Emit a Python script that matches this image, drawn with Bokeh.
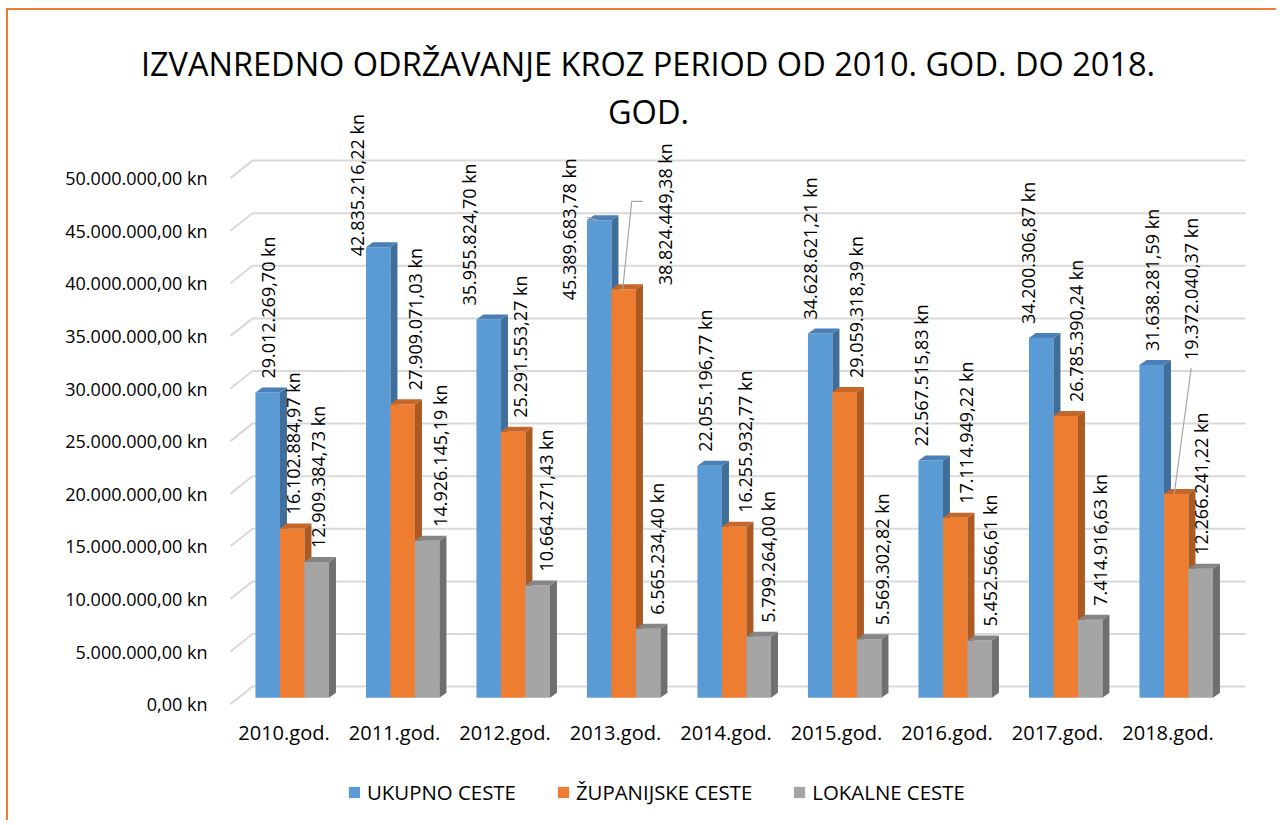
import math
from bokeh.plotting import figure
from bokeh.models import Range1d, FixedTicker, Legend, LegendItem, Label, ColumnDataSource
from bokeh.core.properties import value
from bokeh.embed import file_html
from bokeh.resources import INLINE

# ---------------- data ----------------
categories = ["2010.god.", "2011.god.", "2012.god.", "2013.god.", "2014.god.",
              "2015.god.", "2016.god.", "2017.god.", "2018.god."]
ukupno_ceste = [29012269.70, 42835216.22, 35955824.70, 45389683.78, 22055196.77,
                34628621.21, 22567515.83, 34200306.87, 31638281.59]
zupanijske_ceste = [16102884.97, 27909071.03, 25291553.27, 38824449.38, 16255932.77,
                    29059318.39, 17114949.22, 26785390.24, 19372040.37]
lokalne_ceste = [12909384.73, 14926145.19, 10664271.43, 6565234.40, 5799264.00,
                 5569302.82, 5452566.61, 7414916.63, 12266241.22]
series_names = ["UKUPNO CESTE", "ŽUPANIJSKE CESTE", "LOKALNE CESTE"]
y_ticks = [0, 5000000, 10000000, 15000000, 20000000, 25000000,
           30000000, 35000000, 40000000, 45000000, 50000000]
title_lines = ["IZVANREDNO ODRŽAVANJE KROZ PERIOD OD 2010. GOD. DO 2018.", "GOD."]

# ---------------- styles ----------------
FRONT = ["#5B9BD5", "#ED7D31", "#A5A5A5"]
SIDE = ["#3F6E9B", "#AD5A22", "#6F6F6F"]
TOP = ["#4A80B5", "#C6672A", "#858585"]
GRID = "#D9D9D9"
FONT = "Open Sans"

# label shifts in pixels (dx right, dy down) relative to default position
LBL_DX = [[0, -21.5, -20, -30.7, -5, -10, -10, -13, 0],
          [1, 12, 7, 41, 11, 11, 11, 10, 15],
          [1, 13, 8, 9, 9, 13, 10, 10, 0]]
LBL_DY = [[0, 23, 0, 94, 0, 0, 0, 0, 0],
          [0, 0, 0, 10, 0, 0, 0, 0, -120],
          [0, 0, 0, 0, 0, 0, 0, 0, 0]]
LBL_GAP = 14

# pixel geometry (page coordinates)
AX0, SXP = 283.5, 110.5          # category 0 on the axis plane, px per category
AY0, SYP = 703.6, 10.52e-6       # value 0 on the axis plane, px per kn


def dxp(px):
    return px / SXP


def dyp(px):
    return px / SYP


def X(px):
    return (px - AX0) / SXP


def Y(py):
    return (AY0 - py) / SYP


BF_DX, BF_DY = dxp(8.2), dyp(6.3)      # bar front plane offset from axis plane
BD_DX, BD_DY = dxp(7.0), dyp(5.0)      # bar depth
W_DX, W_DY = dxp(22.0), dyp(17.5)      # back wall offset
BW = dxp(24.5)

ORIGIN = (8, 10)                 # page position of the canvas
FIG_W, FIG_H = 1270, 812
MB_L, MB_R, MB_T, MB_B = 12, 0, 0, 8
F_LEFT, F_RIGHT = ORIGIN[0] + MB_L, ORIGIN[0] + FIG_W - MB_R
F_TOP, F_BOTTOM = ORIGIN[1] + MB_T, ORIGIN[1] + FIG_H - MB_B


def fmt_kn(v):
    s = f"{v:,.2f}".replace(",", "X").replace(".", ",").replace("X", ".")
    return s + " kn"


p = figure(width=FIG_W, height=FIG_H, title=None,
           x_range=Range1d(X(F_LEFT), X(F_RIGHT)),
           y_range=Range1d(Y(F_BOTTOM), Y(F_TOP)),
           output_backend="svg", toolbar_location=None,
           min_border_left=MB_L, min_border_right=MB_R,
           min_border_top=MB_T, min_border_bottom=MB_B)
p.styles = {"margin-left": "6px", "margin-top": "8px",
            "border-left": "2px solid #ED7D31", "border-top": "2px solid #ED7D31"}
p.xgrid.visible = False
p.ygrid.visible = False
p.outline_line_color = None
p.background_fill_color = "white"
p.border_fill_color = "white"

# ---------------- gridlines (floor edge + back wall) ----------------
x_front = X(230)
x_back_end = X(1245)
gx, gy = [], []
for t in y_ticks:
    gx.append([x_front, x_front + W_DX, x_back_end])
    gy.append([t, t + W_DY, t + W_DY])
p.multi_line(gx, gy, line_color=GRID, line_width=2)

# ---------------- 3D bars ----------------
all_series = [ukupno_ceste, zupanijske_ceste, lokalne_ceste]
front_renderers = []
lbl = dict(x=[], y=[], text=[])
for s, vals in enumerate(all_series):
    lefts, rights, tops = [], [], []
    sx, sy, tx, ty = [], [], [], []
    for i, v in enumerate(vals):
        x0 = i + BF_DX + (s - 1) * BW - BW / 2
        x1 = x0 + BW
        y0 = BF_DY
        y1 = v + BF_DY
        lefts.append(x0)
        rights.append(x1)
        tops.append(y1)
        sx.append([x1, x1 + BD_DX, x1 + BD_DX, x1])
        sy.append([y0, y0 + BD_DY, y1 + BD_DY, y1])
        tx.append([x0, x0 + BD_DX, x1 + BD_DX, x1])
        ty.append([y1, y1 + BD_DY, y1 + BD_DY, y1])
        lbl["x"].append((x0 + x1) / 2 + dxp(LBL_DX[s][i]))
        lbl["y"].append(y1 + dyp(LBL_GAP - LBL_DY[s][i]))
        lbl["text"].append(fmt_kn(v))
    r = p.quad(left=lefts, right=rights, bottom=[BF_DY] * len(vals), top=tops,
               fill_color=FRONT[s], line_color=None)
    front_renderers.append(r)
    p.patches(sx, sy, fill_color=SIDE[s], line_color=None)
    p.patches(tx, ty, fill_color=TOP[s], line_color=None)


# leader lines for relocated labels
def bar_top_center(s, i):
    vals = all_series[s]
    xc = i + BF_DX + (s - 1) * BW
    return xc, vals[i] + BF_DY


lead_x, lead_y = [], []
bx, by = bar_top_center(1, 3)              # 2013 orange
lx = bx + dxp(LBL_DX[1][3])
lmid = by + dyp(LBL_GAP - LBL_DY[1][3]) + dyp(84)
lead_x.append([lx - dxp(22), lx - dxp(33), bx - dxp(1)])
lead_y.append([lmid, lmid, by])
bx, by = bar_top_center(1, 8)              # 2018 orange
lx = bx + dxp(LBL_DX[1][8])
lb = by + dyp(LBL_GAP - LBL_DY[1][8])
lead_x.append([lx, bx - dxp(2)])
lead_y.append([lb - dyp(8), by])
bx, by = bar_top_center(0, 3)              # 2013 blue (short stub)
lead_x.append([bx - BW / 2, bx - BW / 2 + dxp(11)])
lead_y.append([by + dyp(3), by])
p.multi_line(lead_x, lead_y, line_color="#A6A6A6", line_width=1.2)

# data labels
p.text(x="x", y="y", text="text", source=ColumnDataSource(lbl), angle=math.pi / 2,
       text_align="left", text_baseline="middle", text_font=value(FONT),
       text_font_size=value("18px"), text_color="black")

# ---------------- axes (drawn at fixed locations inside the frame) ----------------
p.yaxis.ticker = FixedTicker(ticks=y_ticks)
p.yaxis.major_label_overrides = {t: fmt_kn(t) for t in y_ticks}
p.yaxis.fixed_location = X(32)
p.yaxis.major_label_standoff = -175
p.yaxis.axis_line_color = None
p.yaxis.major_tick_line_color = None
p.yaxis.minor_tick_line_color = None
p.yaxis.major_tick_out = 0
p.yaxis.major_tick_in = 0
p.yaxis.major_label_text_font = FONT
p.yaxis.major_label_text_font_size = "18px"
p.yaxis.major_label_text_color = "black"

p.xaxis.ticker = FixedTicker(ticks=list(range(len(categories))))
p.xaxis.major_label_overrides = {i: c for i, c in enumerate(categories)}
p.xaxis.fixed_location = Y(748)
p.xaxis.major_label_standoff = -30
p.xaxis.axis_line_color = None
p.xaxis.major_tick_line_color = None
p.xaxis.minor_tick_line_color = None
p.xaxis.major_tick_out = 0
p.xaxis.major_tick_in = 0
p.xaxis.major_label_text_font = FONT
p.xaxis.major_label_text_font_size = "20px"
p.xaxis.major_label_text_color = "black"

# ---------------- title ----------------
p.add_layout(Label(x=X(647.5), y=Y(63.3), text=title_lines[0], text_align="center",
                   text_baseline="alphabetic", text_font=FONT, text_font_size="32.5px",
                   text_color="black"))
p.add_layout(Label(x=X(648), y=Y(111), text=title_lines[1], text_align="center",
                   text_baseline="alphabetic", text_font=FONT, text_font_size="32.5px",
                   text_color="black"))

# ---------------- legend ----------------
legend = Legend(items=[LegendItem(label=n, renderers=[r]) for n, r in zip(series_names, front_renderers)],
                orientation="horizontal", location=(347 - F_LEFT, F_BOTTOM - 806),
                glyph_width=14, glyph_height=14, label_standoff=6, spacing=40,
                padding=0, margin=0, border_line_color=None, background_fill_alpha=0,
                label_text_font=FONT, label_text_font_size="20.4px", label_text_color="black")
p.add_layout(legend, "center")

open("out.html", "w").write(file_html(p, INLINE))
